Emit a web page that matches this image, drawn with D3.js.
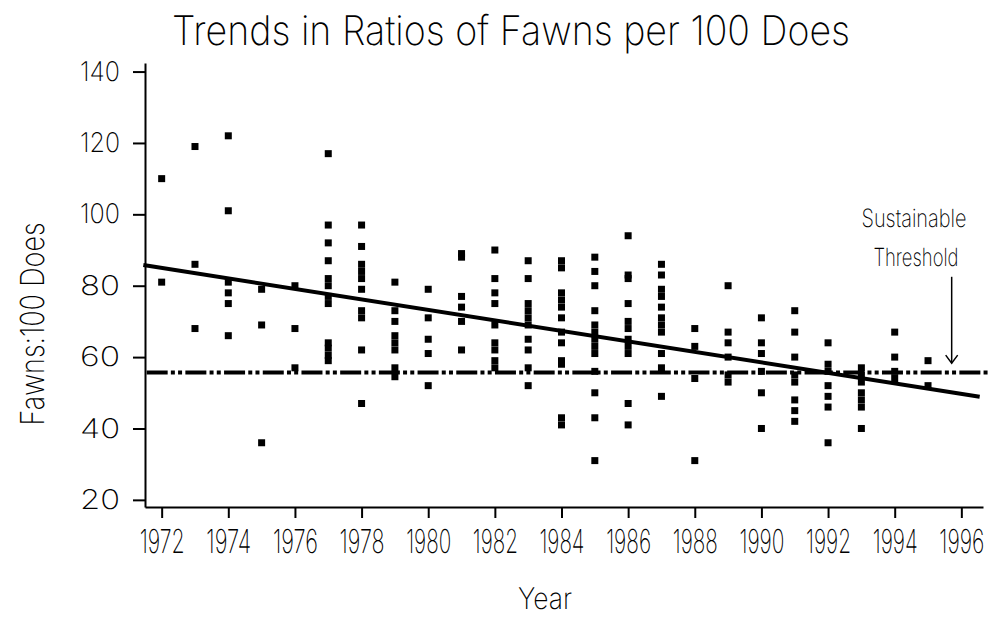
<!DOCTYPE html>
<html>
<head>
<meta charset="utf-8">
<script src="https://cdn.jsdelivr.net/npm/d3@7"></script>
<style>
  body { margin: 0; background: #fff; }
  svg text { font-family: Inter, "DejaVu Sans", sans-serif; font-weight: 200; fill: #000; text-rendering: geometricPrecision; }
</style>
</head>
<body>
<svg id="chart" width="991" height="618"></svg>
<script>
// survey years and the fawn:doe ratios read for each one
const years = [1972, 1973, 1974, 1975, 1976, 1977, 1978, 1979, 1980, 1981, 1982, 1983,
  1984, 1985, 1986, 1987, 1988, 1989, 1990, 1991, 1992, 1993, 1994, 1995]

const fawnRatios = [
  [110, 81],
  [119, 86, 68],
  [122, 101, 81, 78, 75, 66],
  [79, 69, 36],
  [80, 68, 57],
  [117, 97, 92, 87, 82, 80, 77, 75, 64, 62.5, 60.5, 59],
  [97, 91, 86, 84, 82, 79, 73, 71, 62, 47],
  [81, 73, 70, 66, 64, 62, 57, 54.5],
  [79, 71, 65, 61, 52],
  [89, 88, 77, 74, 70, 62],
  [90, 82, 78, 75, 69, 64, 62, 59, 57],
  [87, 82, 75, 73, 71, 69, 65, 62, 57, 52],
  [87, 85, 78, 76, 74, 71, 67, 64, 59, 58, 43, 41],
  [88, 84, 80, 73, 69, 67, 65, 63, 61, 56, 50, 43, 31],
  [94, 83, 82, 75, 70, 68, 65, 63, 61, 47, 41],
  [86, 83, 79, 77, 74, 71, 69, 67, 61, 57, 49],
  [68, 63, 54, 31],
  [80, 67, 64, 60, 55, 53],
  [71, 64, 61, 56, 50, 40],
  [73, 67, 60, 55, 53, 48, 45, 42],
  [64, 58, 56, 52, 49, 46, 36],
  [57, 55, 53, 50, 48, 46, 40],
  [67, 60, 56, 54],
  [59, 52]
]

const xTicks = [1972, 1974, 1976, 1978, 1980, 1982, 1984, 1986, 1988, 1990, 1992, 1994, 1996]
const yTicks = [20, 40, 60, 80, 100, 120, 140]

// fitted trend, read at both ends of the line
const trend = [[1971.45, 85.8], [1996.55, 48.9]]
// sustainable threshold level and the span it is drawn over
const threshold = 55.7
const thresholdSpan = [1971.55, 1996.85]

const svg = d3.select('#chart')

const x = d3.scaleLinear().domain([1971.5, 1996.65]).range([145, 983])
const y = d3.scaleLinear().domain([18, 142.4]).range([507, 63])

const points = []
years.forEach((yr, i) => {
  fawnRatios[i].forEach((v) => points.push({ year: yr, value: v }))
})

// squeeze text horizontally to a target width (the original font is very narrow)
const squeeze = (sel, width) => {
  sel.each(function () {
    const node = this
    const w = node.getComputedTextLength()
    const s = w > 0 ? width / w : 1
    const x0 = +node.getAttribute('x') || 0
    const y0 = +node.getAttribute('y') || 0
    const t = node.getAttribute('transform') || ''
    d3.select(node)
      .attr('x', 0)
      .attr('y', 0)
      .attr('transform', `${t} translate(${x0},${y0}) scale(${s},1)`)
  })
}

// axes
const yAxis = svg.append('g')
  .attr('transform', 'translate(145,0)')
  .call(d3.axisLeft(y).tickValues(yTicks).tickSize(12).tickSizeOuter(0).tickPadding(13))
const xAxis = svg.append('g')
  .attr('transform', 'translate(0,507)')
  .call(d3.axisBottom(x).tickValues(xTicks).tickFormat(d3.format('d')).tickSize(11).tickSizeOuter(0).tickPadding(12))

;[yAxis, xAxis].forEach((g) => {
  g.select('.domain').attr('stroke', '#000').attr('stroke-width', 2)
  g.selectAll('.tick line').attr('stroke', '#000').attr('stroke-width', 2)
})
yAxis.selectAll('.tick text').style('font-size', '27px').call(squeeze, 40)
xAxis.selectAll('.tick text').style('font-size', '33px').call(squeeze, 45)

// threshold line
svg.append('line')
  .attr('x1', x(thresholdSpan[0]))
  .attr('x2', x(thresholdSpan[1]))
  .attr('y1', y(threshold))
  .attr('y2', y(threshold))
  .attr('stroke', '#000')
  .attr('stroke-width', 4)
  .attr('stroke-dasharray', '21,3.2,4,3.2,4,3.3')

// points
svg.append('g')
  .selectAll('rect')
  .data(points)
  .enter()
  .append('rect')
  .attr('x', (d) => x(d.year) - 3.5)
  .attr('y', (d) => y(d.value) - 3.5)
  .attr('width', 7)
  .attr('height', 7)
  .attr('fill', '#000')

// trend line
svg.append('path')
  .datum(trend)
  .attr('d', d3.line().x((d) => x(d[0])).y((d) => y(d[1])))
  .attr('stroke', '#000')
  .attr('stroke-width', 4)
  .attr('fill', 'none')

// annotation with arrow
const arrowX = x(1995.71)
svg.append('line')
  .attr('x1', arrowX).attr('x2', arrowX)
  .attr('y1', y(82.5)).attr('y2', y(58.3))
  .attr('stroke', '#000').attr('stroke-width', 1.5)
svg.append('path')
  .attr('d', `M ${arrowX - 6} ${y(58.3) - 8} L ${arrowX} ${y(58.3)} L ${arrowX + 6} ${y(58.3) - 8}`)
  .attr('stroke', '#000').attr('stroke-width', 1.5).attr('fill', 'none')

svg.append('text')
  .attr('x', 914).attr('y', 227)
  .attr('text-anchor', 'middle')
  .style('font-size', '25px')
  .text('Sustainable')
  .call(squeeze, 105)
svg.append('text')
  .attr('x', 916).attr('y', 266)
  .attr('text-anchor', 'middle')
  .style('font-size', '25px')
  .text('Threshold')
  .call(squeeze, 85)

// titles
svg.append('text')
  .attr('x', 511).attr('y', 45)
  .attr('text-anchor', 'middle')
  .style('font-size', '41px')
  .text('Trends in Ratios of Fawns per 100 Does')
  .call(squeeze, 678)

svg.append('text')
  .attr('x', 545).attr('y', 609)
  .attr('text-anchor', 'middle')
  .style('font-size', '30px')
  .text('Year')
  .call(squeeze, 54)

svg.append('text')
  .attr('transform', 'translate(44,324) rotate(-90)')
  .attr('text-anchor', 'middle')
  .style('font-size', '33px')
  .text('Fawns:100 Does')
  .call(squeeze, 203)
</script>
</body>
</html>
